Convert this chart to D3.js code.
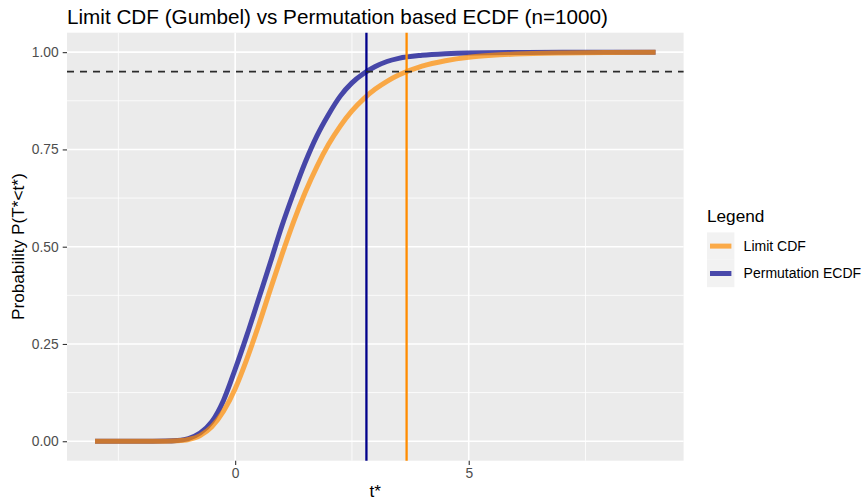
<!DOCTYPE html>
<html>
<head>
<meta charset="utf-8">
<script src="https://cdn.jsdelivr.net/npm/d3@7"></script>
<style>
  body { margin: 0; background: #ffffff; }
  text { font-family: "Liberation Sans", Arial, Helvetica, sans-serif; }
</style>
</head>
<body>
<svg id="chart" width="864" height="500"></svg>
<script>
// Limit CDF (Gumbel) evaluated on a grid of t*
const limitT = [-3, -2, -1.5, -1.25, -1, -0.75, -0.5, -0.25, 0, 0.25, 0.5, 0.75, 1, 1.25, 1.5, 1.75, 2, 2.25, 2.5, 2.75, 3, 3.25, 3.5, 4, 4.5, 5, 5.5, 6, 7, 8, 9];
const limitP = [0, 0, 0.0001, 0.001, 0.0044, 0.0145, 0.037, 0.077, 0.135, 0.211, 0.297, 0.389, 0.479, 0.564, 0.640, 0.706, 0.763, 0.810, 0.849, 0.880, 0.905, 0.925, 0.941, 0.964, 0.978, 0.987, 0.992, 0.995, 0.998, 0.9993, 0.9998];

// Permutation based ECDF (n = 1000)
const ecdfT = [-3, -2, -1.5, -1.25, -1, -0.75, -0.5, -0.25, 0, 0.25, 0.5, 0.75, 1, 1.25, 1.5, 1.75, 2, 2.25, 2.5, 2.75, 3, 3.25, 3.5, 4, 4.5, 5, 6, 7, 9];
const ecdfP = [0, 0, 0.0005, 0.002, 0.007, 0.021, 0.05, 0.105, 0.185, 0.272, 0.365, 0.458, 0.553, 0.638, 0.717, 0.785, 0.84, 0.887, 0.921, 0.945, 0.963, 0.976, 0.984, 0.992, 0.996, 0.998, 0.999, 1, 1];

// 95% level and the matching quantiles of each distribution
const level = 0.95;
const ecdfQuantile = 2.81;
const limitQuantile = 3.67;

// Axis ticks
const xTicks = [0, 5];
const xMinor = [-2.5, 2.5, 7.5];
const yTicks = [0, 0.25, 0.5, 0.75, 1];
const yMinor = [0.125, 0.375, 0.625, 0.875];

const seriesNames = ["Limit CDF", "Permutation ECDF"];
const lineColors = ["#FF8C00", "#00008B"];
const vlineColors = ["#FF8C00", "#00008B"];

const svg = d3.select("#chart");
const panel = { left: 67, right: 683.6, top: 32.7, bottom: 460.7 };

const x = d3.scaleLinear().domain([-3.6, 9.6]).range([panel.left, panel.right]);
const y = d3.scaleLinear().domain([-0.05, 1.05]).range([panel.bottom, panel.top]);

// Panel background
svg.append("rect")
  .attr("x", panel.left).attr("y", panel.top)
  .attr("width", panel.right - panel.left).attr("height", panel.bottom - panel.top)
  .attr("fill", "#EBEBEB");

const grid = svg.append("g");
grid.selectAll(".xminor").data(xMinor).join("line")
  .attr("x1", d => x(d)).attr("x2", d => x(d))
  .attr("y1", panel.top).attr("y2", panel.bottom)
  .attr("stroke", "#fff").attr("stroke-width", 0.8);
grid.selectAll(".yminor").data(yMinor).join("line")
  .attr("y1", d => y(d)).attr("y2", d => y(d))
  .attr("x1", panel.left).attr("x2", panel.right)
  .attr("stroke", "#fff").attr("stroke-width", 0.8);
grid.selectAll(".xmajor").data(xTicks).join("line")
  .attr("x1", d => x(d)).attr("x2", d => x(d))
  .attr("y1", panel.top).attr("y2", panel.bottom)
  .attr("stroke", "#fff").attr("stroke-width", 1.6);
grid.selectAll(".ymajor").data(yTicks).join("line")
  .attr("y1", d => y(d)).attr("y2", d => y(d))
  .attr("x1", panel.left).attr("x2", panel.right)
  .attr("stroke", "#fff").attr("stroke-width", 1.6);

// Curves
const line = d3.line().x(d => x(d[0])).y(d => y(d[1])).curve(d3.curveMonotoneX);
const ecdfData = d3.zip(ecdfT, ecdfP);
const limitData = d3.zip(limitT, limitP);

svg.append("path").datum(ecdfData)
  .attr("d", line).attr("fill", "none")
  .attr("stroke", lineColors[1]).attr("stroke-opacity", 0.7)
  .attr("stroke-width", 5).attr("stroke-linejoin", "round");
svg.append("path").datum(limitData)
  .attr("d", line).attr("fill", "none")
  .attr("stroke", lineColors[0]).attr("stroke-opacity", 0.7)
  .attr("stroke-width", 5).attr("stroke-linejoin", "round");

// Quantile lines
[[limitQuantile, vlineColors[0]], [ecdfQuantile, vlineColors[1]]].forEach(([q, c]) => {
  svg.append("line")
    .attr("x1", x(q)).attr("x2", x(q))
    .attr("y1", panel.top).attr("y2", panel.bottom)
    .attr("stroke", c).attr("stroke-width", 2.3);
});

// 95% reference level
svg.append("line")
  .attr("x1", panel.left).attr("x2", panel.right)
  .attr("y1", y(level)).attr("y2", y(level))
  .attr("stroke", "#2b2b2b").attr("stroke-width", 1.7)
  .attr("stroke-dasharray", "7,6");

// Axes
const xAxis = d3.axisBottom(x).tickValues(xTicks).tickSize(4.3).tickPadding(3.5).tickFormat(d3.format("d"));
const gx = svg.append("g").attr("transform", `translate(0,${panel.bottom})`).call(xAxis);
const yAxis = d3.axisLeft(y).tickValues(yTicks).tickSize(4.3).tickPadding(4).tickFormat(d3.format(".2f"));
const gy = svg.append("g").attr("transform", `translate(${panel.left},0)`).call(yAxis);
[gx, gy].forEach(g => {
  g.select(".domain").remove();
  g.selectAll(".tick line").attr("stroke", "#333").attr("stroke-width", 1.1);
  g.selectAll(".tick text").attr("fill", "#4D4D4D").attr("font-size", 13.8)
    .attr("font-family", "'Liberation Sans', Arial, sans-serif");
});

// Titles
svg.append("text").attr("x", panel.left).attr("y", 24)
  .attr("font-size", 20.7).attr("fill", "#000")
  .text("Limit CDF (Gumbel) vs Permutation based ECDF (n=1000)");
svg.append("text").attr("x", (panel.left + panel.right) / 2).attr("y", 497)
  .attr("text-anchor", "middle").attr("font-size", 17.2).attr("fill", "#000")
  .text("t*");
svg.append("text")
  .attr("transform", `translate(24,${(panel.top + panel.bottom) / 2}) rotate(-90)`)
  .attr("text-anchor", "middle").attr("font-size", 17.2).attr("fill", "#000")
  .text("Probability P(T*<t*)");

// Legend
const lg = svg.append("g").attr("transform", "translate(707,0)");
lg.append("text").attr("x", 0).attr("y", 222).attr("font-size", 17.2).attr("fill", "#000").text("Legend");
seriesNames.forEach((name, i) => {
  const top = 232.4 + i * 27.4;
  lg.append("rect").attr("x", 0).attr("y", top).attr("width", 27.4).attr("height", 27.4).attr("fill", "#F2F2F2");
  lg.append("line").attr("x1", 3).attr("x2", 24.4).attr("y1", top + 13.7).attr("y2", top + 13.7)
    .attr("stroke", lineColors[i]).attr("stroke-opacity", 0.7).attr("stroke-width", 5);
  lg.append("text").attr("x", 36.6).attr("y", top + 13.7).attr("dy", "0.35em")
    .attr("font-size", 14).attr("fill", "#000").text(name);
});
</script>
</body>
</html>
